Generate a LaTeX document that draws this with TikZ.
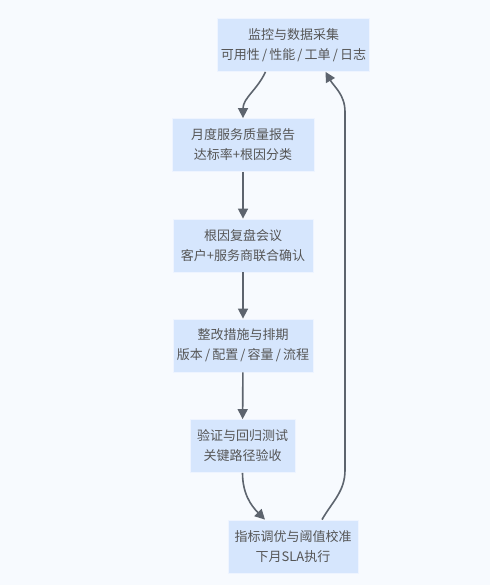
\documentclass[tikz,border=0pt]{standalone}
\usepackage{fontspec}
\setmainfont{Noto Sans CJK SC}
\usetikzlibrary{arrows.meta,positioning}
\definecolor{pagebg}{HTML}{F7FAFE}
\definecolor{boxfill}{HTML}{D6E6FD}
\definecolor{boxline}{HTML}{EEF4FF}
\definecolor{flowgray}{HTML}{5D646E}
\definecolor{textgray}{HTML}{555555}
\newcommand{\stagesep}{\,/\,}
\begin{document}
\begin{tikzpicture}[x=1bp,y=1bp,
  stage/.style={draw=boxline, line width=0.8bp, fill=boxfill, minimum width=#1, minimum height=53bp, align=center, font=\fontsize{13bp}{20bp}\selectfont, text=textgray},
  flow/.style={-{Triangle[length=10bp,width=10bp]}, line width=1.6bp, flowgray}
]
  % Page
  \fill[pagebg] (0,0) rectangle (490,-585);
  \useasboundingbox (0,0) rectangle (490,-585);

  % Stages
  \node[stage=151bp] (collect) at (293.5,-45) {监控与数据采集\\可用性\stagesep 性能\stagesep 工单\stagesep 日志};
  \node[stage=142bp] (report) at (243,-145) {月度服务质量报告\\达标率+根因分类};
  \node[stage=140bp] (review) at (243,-245.5) {根因复盘会议\\客户+服务商联合确认};
  \node[stage=140bp] (fix) at (243,-345.5) {整改措施与排期\\版本\stagesep 配置\stagesep 容量\stagesep 流程};
  \node[stage=105bp] (verify) at (242.5,-446) {验证与回归测试\\关键路径验收};
  \node[stage=130bp] (tune) at (293,-546.5) {指标调优与阈值校准\\下月SLA执行};

  % Return rail
  \coordinate (railbot) at (345,-470);
  \coordinate (railtop) at (345,-112);

  % Flow
  \draw[flow] ([xshift=-28bp]collect.south) to[out=-115,in=90] (report.north);
  \draw[flow] (report) -- (review);
  \draw[flow] (review) -- (fix);
  \draw[flow] (fix) -- (verify);
  \draw[flow] (verify.south) to[out=-90,in=135] ([xshift=-28bp]tune.north);
  \draw[flow] ([xshift=29bp]tune.north) to[out=60,in=-90] (railbot) -- (railtop) to[out=90,in=-60] ([xshift=32bp]collect.south);
\end{tikzpicture}
\end{document}
